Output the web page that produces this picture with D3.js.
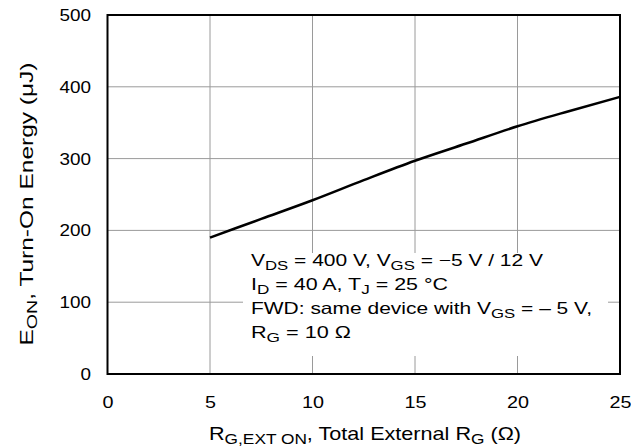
<!DOCTYPE html>
<html><head><meta charset="utf-8">
<script src="https://cdn.jsdelivr.net/npm/d3@7"></script>
<style>body{margin:0;background:#fff}svg{display:block}text{font-family:"Liberation Sans",Arial,sans-serif;fill:#000}</style>
</head><body>
<svg id="c" width="631" height="448"></svg>
<script>
const rgValues = [5, 7.5, 10, 12.5, 15, 17.5, 20, 22.5, 25];
const eonValues = [190, 216, 242, 270, 297, 321, 345, 366, 386];
const xTicks = [0, 5, 10, 15, 20, 25];
const yTicks = [0, 100, 200, 300, 400, 500];
const noteLines = [
  [["V",""],["DS","sub"],[" = 400 V, V",""],["GS","sub"],[" = \u22125 V / 12 V",""]],
  [["I",""],["D","sub"],[" = 40 A, T",""],["J","sub"],[" = 25 \u00B0C",""]],
  [["FWD: same device with V",""],["GS","sub"],[" = \u2013 5 V,",""]],
  [["R",""],["G","sub"],[" = 10 \u03A9",""]]
];
const noteWidths = [292, 197, 341, 100];

const svg = d3.select("#c");
const L = 107.5, R = 620, T = 15, B = 374;
const x = d3.scaleLinear().domain([0, 25]).range([L, R]);
const y = d3.scaleLinear().domain([0, 500]).range([B, T]);
const FF = "Liberation Sans, Arial, sans-serif";

// grid
const g = svg.append("g");
g.selectAll(".vg").data(xTicks.filter(d => d > 0 && d < 25)).enter().append("line")
  .attr("x1", d => x(d)).attr("x2", d => x(d)).attr("y1", T).attr("y2", B)
  .attr("stroke", "#9a9a9a").attr("stroke-width", 1);
g.selectAll(".hg").data(yTicks.filter(d => d > 0 && d < 500)).enter().append("line")
  .attr("y1", d => y(d)).attr("y2", d => y(d)).attr("x1", L).attr("x2", R)
  .attr("stroke", "#9a9a9a").attr("stroke-width", 1);

// note box background
svg.append("rect").attr("x", 243).attr("y", 253).attr("width", 365).attr("height", 103).attr("fill", "#fff");

// curve
svg.append("path").datum(rgValues.map((r, i) => [r, eonValues[i]]))
  .attr("d", d3.line().x(d => x(d[0])).y(d => y(d[1])).curve(d3.curveMonotoneX))
  .attr("fill", "none").attr("stroke", "#000").attr("stroke-width", 2.5);

// frame
svg.append("rect").attr("x", L).attr("y", T).attr("width", R - L).attr("height", B - T)
  .attr("fill", "none").attr("stroke", "#000").attr("stroke-width", 2);

// axes tick labels
const xa = svg.append("g").attr("transform", `translate(0,${B})`)
  .call(d3.axisBottom(x).tickValues(xTicks).tickSize(0).tickPadding(22).tickFormat(d3.format("d")));
xa.select(".domain").remove();
xa.selectAll("text").attr("font-size", 17).attr("font-family", FF)
  .attr("textLength", function() { return 11 * this.textContent.length; })
  .attr("lengthAdjust", "spacingAndGlyphs");
const ya = svg.append("g").attr("transform", `translate(${L},0)`)
  .call(d3.axisLeft(y).tickValues(yTicks).tickSize(0).tickPadding(16.5).tickFormat(d3.format("d")));
ya.select(".domain").remove();
ya.selectAll("text").attr("font-size", 17).attr("font-family", FF)
  .attr("textLength", function() { return 10.5 * this.textContent.length; })
  .attr("lengthAdjust", "spacingAndGlyphs");

function rich(sel, parts, size) {
  parts.forEach(([t, k]) => {
    const ts = sel.append("tspan").text(t);
    if (k === "sub") ts.attr("font-size", size * 0.8).attr("baseline-shift", "-27%");
  });
}

// x title
const xt = svg.append("text").attr("x", 365).attr("y", 440).attr("text-anchor", "middle").attr("font-size", 18.5)
  .attr("textLength", 312).attr("lengthAdjust", "spacingAndGlyphs");
rich(xt, [["R",""],["G,EXT  ON","sub"],[", Total External R",""],["G","sub"],[" (\u03A9)",""]], 18.5);

// y title
const yt = svg.append("text").attr("transform", "translate(33,204) rotate(-90)").attr("text-anchor", "middle").attr("font-size", 18.5)
  .attr("textLength", 283).attr("lengthAdjust", "spacingAndGlyphs");
rich(yt, [["E",""],["ON","sub"],[", Turn-On Energy (\u03BCJ)",""]], 18.5);

// note
noteLines.forEach((ln, i) => {
  const t = svg.append("text").attr("x", 251).attr("y", 266 + i * 24).attr("font-size", 16.5)
    .attr("textLength", noteWidths[i]).attr("lengthAdjust", "spacingAndGlyphs");
  rich(t, ln, 16.5);
});
</script>
</body></html>
